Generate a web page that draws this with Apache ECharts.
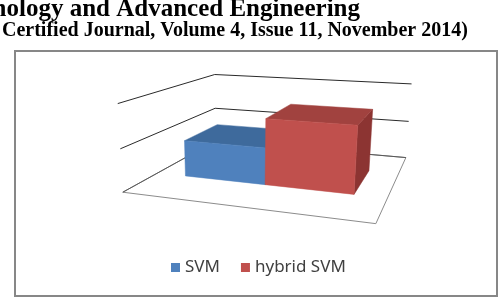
<!DOCTYPE html>
<html><head><meta charset="utf-8">
<script src="https://cdn.jsdelivr.net/npm/echarts@6/dist/echarts.min.js"></script>
<style>html,body{margin:0;padding:0;background:#fff}#c{width:498px;height:302px}</style>
</head><body><div id="c"></div>
<script>
// ---- data ----
const categories = ['Accuracy'];
const seriesNames = ['SVM', 'hybrid SVM'];
const svmValues = [44];
const hybridValues = [78];
const yTicks = [0, 50, 100];
const headerLine1 = 'Technology and Advanced Engineering';
const headerLine2 = 'Certified Journal, Volume 4, Issue 11, November 2014)';

// ---- geometry: perspective camera calibration (world X width, Y height, Z depth -> screen) ----
const CAL = [
  [0,0,0,122.7,191.7],[1,0,0,376,224],[1,0,1,406,157.3],[0,0,1,215.5,142],
  [0,1,0,117.3,104.3],[0,1,1,215,74.3],[1,1,1,411.7,84.3],
  [0,.5,0,120.7,148.3],[0,.5,1,215,107.7],[1,.5,1,408.3,121]
];
const BAR_X = [[0.135, 0.5], [0.5, 0.87]];
const BAR_Z = [0.31, 0.69];
const COLORS = [
  {front:'#4F81BD', top:'#3E6A9C', side:'#3A6291'},
  {front:'#C0504D', top:'#A1423F', side:'#8C3432'}
];

function solveCamera(pts){
  const N = 11, A = [], b = new Array(N).fill(0);
  for (let i=0;i<N;i++) A.push(new Array(N).fill(0));
  const add = (r,t)=>{ for(let i=0;i<N;i++){ b[i]+=r[i]*t; for(let j=0;j<N;j++) A[i][j]+=r[i]*r[j]; } };
  pts.forEach(([X,Y,Z,u0,v0])=>{
    const u=(u0-250)/100, v=(v0-150)/100;
    add([X,Y,Z,1,0,0,0,0,-u*X,-u*Y,-u*Z], u);
    add([0,0,0,0,X,Y,Z,1,-v*X,-v*Y,-v*Z], v);
  });
  for (let c=0;c<N;c++){
    let p=c; for(let r=c+1;r<N;r++) if(Math.abs(A[r][c])>Math.abs(A[p][c])) p=r;
    [A[c],A[p]]=[A[p],A[c]]; [b[c],b[p]]=[b[p],b[c]];
    for (let r=0;r<N;r++){ if(r===c) continue; const f=A[r][c]/A[c][c]; if(!f) continue;
      for(let k=c;k<N;k++) A[r][k]-=f*A[c][k]; b[r]-=f*b[c]; }
  }
  return b.map((x,i)=>x/A[i][i]);
}
const P = solveCamera(CAL);
function proj(X,Y,Z){
  const w = P[8]*X+P[9]*Y+P[10]*Z+1;
  return [ (P[0]*X+P[1]*Y+P[2]*Z+P[3])/w*100+250, (P[4]*X+P[5]*Y+P[6]*Z+P[7])/w*100+150 ];
}
const yMin = yTicks[0], yMax = yTicks[yTicks.length-1];
function heightOf(api, v){
  const y0 = api.coord([0, yMin])[1], y1 = api.coord([0, yMax])[1], y = api.coord([0, v])[1];
  return (y0 - y) / (y0 - y1);
}

function renderWalls(params, api){
  const v = api.value(1);
  const h = heightOf(api, v);
  const children = [];
  if (v === yMin) {
    children.push({type:'polygon', shape:{points:[proj(0,0,0),proj(1,0,0),proj(1,0,1),proj(0,0,1)]},
      style:{fill:'none', stroke:'#8c8c8c', lineWidth:1}});
  }
  children.push({type:'polyline', shape:{points:[proj(0,h,0),proj(0,h,1),proj(1,h,1)]},
    style:{fill:null, stroke: v === yMin ? '#5a5a5a' : '#2a2a2a', lineWidth:1}});
  return {type:'group', children};
}

function makeBarRenderer(idx){
  return function(params, api){
    const h = heightOf(api, api.value(1));
    const [x0,x1] = BAR_X[idx], [z0,z1] = BAR_Z, c = COLORS[idx];
    const front = [proj(x0,0,z0),proj(x1,0,z0),proj(x1,h,z0),proj(x0,h,z0)];
    const top = [proj(x0,h,z0),proj(x1,h,z0),proj(x1,h,z1),proj(x0,h,z1)];
    const side = [proj(x1,0,z0),proj(x1,0,z1),proj(x1,h,z1),proj(x1,h,z0)];
    return {type:'group', children:[
      {type:'polygon', shape:{points:side}, style:{fill:c.side, stroke:c.side, lineWidth:0.5}},
      {type:'polygon', shape:{points:top}, style:{fill:c.top, stroke:c.top, lineWidth:0.5}},
      {type:'polygon', shape:{points:front}, style:{fill:c.front, stroke:c.front, lineWidth:0.5}}
    ]};
  };
}

const chart = echarts.init(document.getElementById('c'), null, {renderer:'canvas'});
chart.setOption({
  animation:false,
  backgroundColor:'#ffffff',
  grid:{left:0,right:0,top:0,bottom:0},
  xAxis:{type:'category', data:categories, show:false},
  yAxis:{type:'value', min:yMin, max:yMax, interval:yTicks[1]-yTicks[0], show:false},
  legend:{
    data:seriesNames, left:166, top:254, itemWidth:9, itemHeight:9, itemGap:21,
    icon:'rect',
    textStyle:{fontFamily:'Noto Sans', fontSize:17, color:'#404040'}
  },
  graphic:[
    {type:'rect', shape:{x:15,y:51,width:482,height:245}, style:{fill:'none', stroke:'#878787', lineWidth:2}, z:0},
    {type:'text', x:360, y:-3, style:{text:headerLine1, font:'bold 25px "Liberation Serif"', fill:'#000', align:'right', verticalAlign:'top'}},
    {type:'text', x:2, y:20.5, style:{text:headerLine2, font:'bold 20px "Liberation Serif"', fill:'#000', align:'left', verticalAlign:'top'}}
  ],
  series:[
    {type:'custom', name:'walls', z:1, silent:true, data:yTicks.map(t=>[0,t]), renderItem:renderWalls, encode:{x:0,y:1}},
    {type:'custom', name:seriesNames[0], z:2, itemStyle:{color:COLORS[0].front}, data:svmValues.map((v,i)=>[i,v]), renderItem:makeBarRenderer(0), encode:{x:0,y:1}},
    {type:'custom', name:seriesNames[1], z:2, itemStyle:{color:COLORS[1].front}, data:hybridValues.map((v,i)=>[i,v]), renderItem:makeBarRenderer(1), encode:{x:0,y:1}}
  ]
});
</script>
</body></html>
